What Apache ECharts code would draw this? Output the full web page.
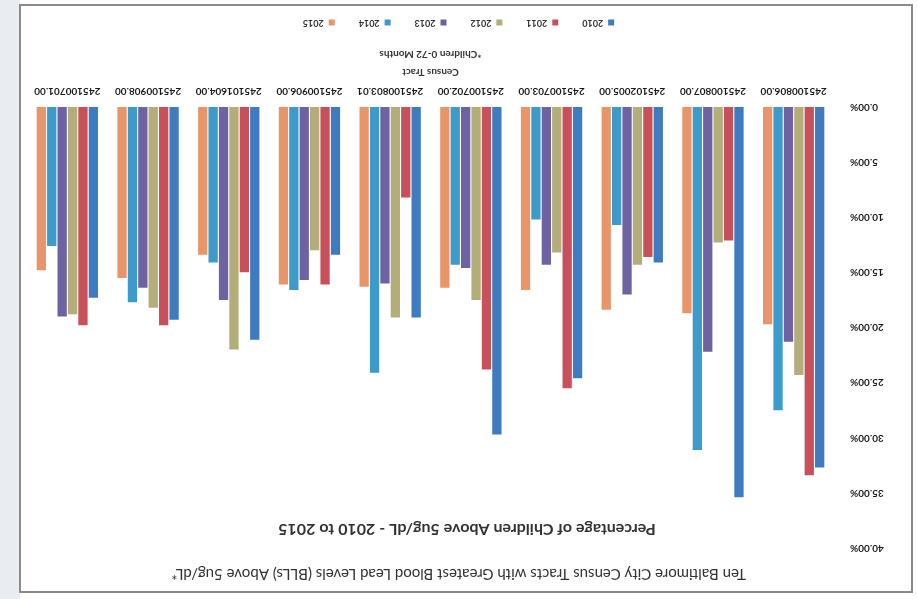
<!DOCTYPE html>
<html>
<head>
<meta charset="utf-8">
<script src="https://cdn.jsdelivr.net/npm/echarts@6/dist/echarts.min.js"></script>
<style>
  html, body { margin: 0; padding: 0; background: #ffffff; }
  #wrap { width: 917px; height: 599px; transform: rotate(180deg); background: #e9edf1; }
  #chart { width: 917px; height: 599px; }
</style>
</head>
<body>
<div id="wrap"><div id="chart"></div></div>
<script>
// census tracts (left to right, as in the upright chart)
const tracts = ['245100806.00', '245100807.00', '245102005.00', '245100703.00', '245100702.00',
  '245100803.01', '245100906.00', '245101604.00', '245100908.00', '245100701.00'];
const years = ['2010', '2011', '2012', '2013', '2014', '2015'];
const yTicks = [0, 5, 10, 15, 20, 25, 30, 35, 40];

// percentage of children above 5ug/dL, one array per year
const v2010 = [32.7, 35.4, 14.1, 24.6, 29.7, 19.1, 13.4, 21.1, 19.3, 17.3];
const v2011 = [33.4, 12.1, 13.6, 25.5, 23.8, 8.2, 16.1, 15.0, 19.8, 19.8];
const v2012 = [24.3, 12.3, 14.3, 13.2, 17.5, 19.1, 13.0, 22.0, 18.2, 18.8];
const v2013 = [21.3, 22.2, 17.0, 14.3, 14.6, 16.0, 15.7, 17.5, 16.4, 19.0];
const v2014 = [27.5, 31.1, 10.7, 10.2, 14.3, 24.1, 16.6, 14.1, 17.7, 12.6];
const v2015 = [19.7, 18.7, 18.4, 16.6, 16.4, 16.3, 16.1, 13.4, 15.5, 14.8];
const yearValues = [v2010, v2011, v2012, v2013, v2014, v2015];

const colors = ['#3f7bbf', '#c8505b', '#b2ad79', '#6e62a3', '#3c9bcb', '#e9956a'];

const chart = echarts.init(document.getElementById('chart'));

const series = years.map(function (y, i) {
  return {
    name: y,
    type: 'bar',
    data: yearValues[i],
    barGap: '12%',
    barCategoryGap: '24%',
    itemStyle: { color: colors[i] }
  };
});

chart.setOption({
  backgroundColor: 'transparent',
  animation: false,
  color: colors,
  textStyle: { fontFamily: 'Lato' },
  title: [
    {
      text: 'Ten Baltimore City Census Tracts with Greatest Blood Lead Levels (BLLs) Above 5ug/dL*',
      left: 'center',
      top: 13,
      textStyle: { fontSize: 15, fontWeight: 'normal', color: '#333333', fontFamily: 'Lato' }
    },
    {
      text: 'Percentage of Children Above 5ug/dL - 2010 to 2015',
      left: 445,
      top: 57,
      textAlign: 'center',
      textStyle: { fontSize: 16, fontWeight: 'bold', color: '#333333', fontFamily: 'Lato' }
    }
  ],
  legend: {
    data: years,
    bottom: 13,
    left: 'center',
    itemWidth: 6,
    itemHeight: 6,
    itemGap: 24,
    icon: 'rect',
    textStyle: { fontSize: 9, fontWeight: 'bold', color: '#333333' }
  },
  grid: { left: 83, right: 27, top: 51, bottom: 107, containLabel: false },
  xAxis: {
    type: 'category',
    data: tracts,
    name: 'Census Tract\n*Children 0-72 Months',
    nameLocation: 'middle',
    nameGap: 26,
    nameTextStyle: { fontSize: 10, fontWeight: 'bold', color: '#333333', lineHeight: 18 },
    axisTick: { show: false },
    axisLine: { show: false },
    axisLabel: { fontSize: 10, fontWeight: 'bold', color: '#1a1a1a', margin: 11, interval: 0 }
  },
  yAxis: {
    type: 'value',
    min: 0,
    max: 40,
    interval: 5,
    splitLine: { show: false },
    axisLine: { show: false },
    axisTick: { show: false },
    axisLabel: {
      fontSize: 10,
      fontWeight: 'bold',
      color: '#1a1a1a',
      margin: 16,
      formatter: function (v) { return yTicks.indexOf(v) >= 0 ? v.toFixed(2) + '%' : ''; }
    }
  },
  graphic: [
    {
      type: 'rect',
      shape: { x: 0, y: 0, width: 897, height: 599 },
      style: { fill: '#ffffff' },
      z: -10
    },
    {
      type: 'rect',
      shape: { x: 5, y: 7, width: 892, height: 587 },
      style: { fill: 'none', stroke: '#8a8a8a', lineWidth: 2 },
      z: -5
    }
  ],
  series: series
});
</script>
</body>
</html>
